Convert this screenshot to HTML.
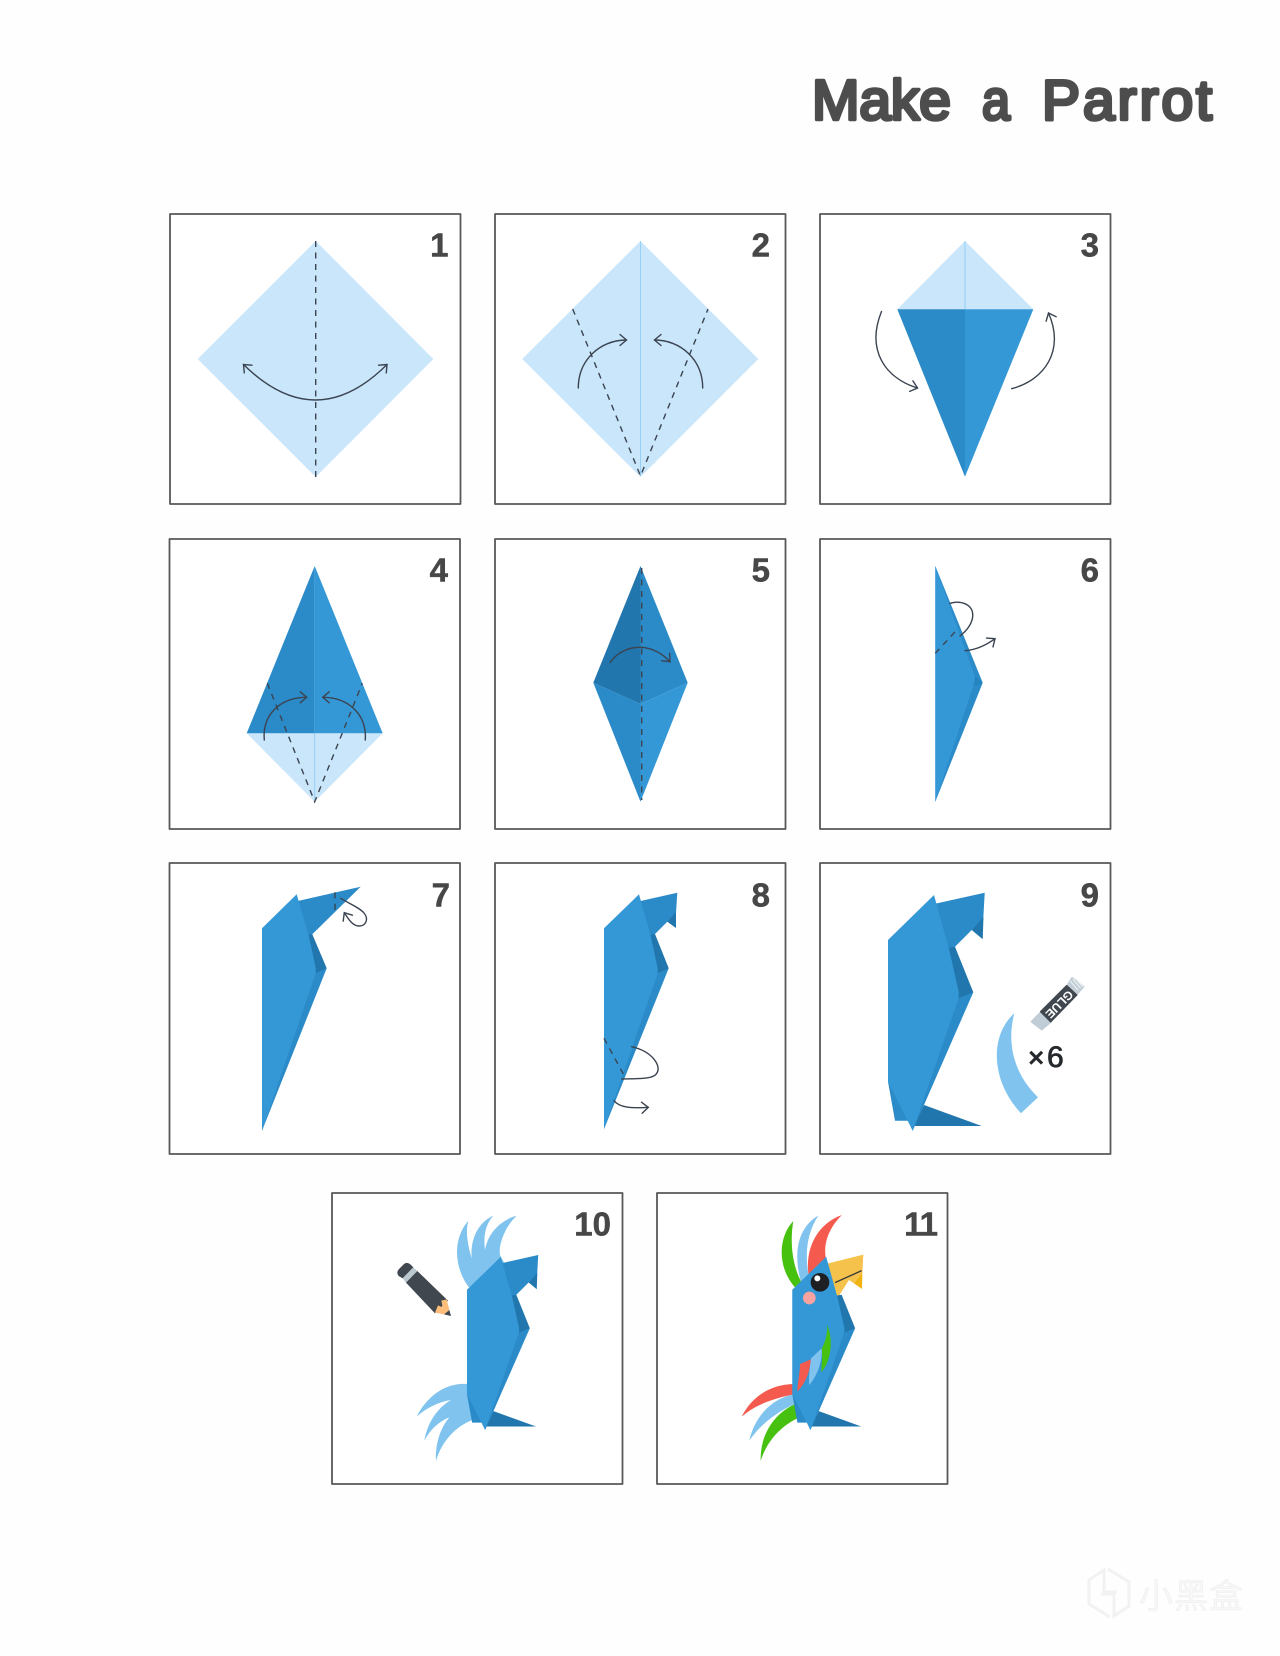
<!DOCTYPE html>
<html>
<head>
<meta charset="utf-8">
<title>Make a Parrot</title>
<style>
html,body{margin:0;padding:0;background:#fefefe;}
svg{display:block;}
.p{fill:#fff;stroke:#585858;stroke-width:1.8;stroke-linejoin:round;}
.n{font-family:"Liberation Sans",sans-serif;font-weight:700;font-size:33px;fill:#474747;stroke:#474747;stroke-width:.5;stroke-linejoin:round;text-anchor:end;}
.t{font-family:"Liberation Sans",sans-serif;font-weight:400;font-size:57px;fill:#4d4d4d;stroke:#4d4d4d;stroke-width:3.6;stroke-linejoin:round;stroke-linecap:round;}
.d{fill:none;stroke:#3b4450;stroke-width:1.4;stroke-dasharray:6 5.5;}
.a{fill:none;stroke:#3b4450;stroke-width:1.4;stroke-linecap:round;}
.e{fill:none;stroke:#3b4450;stroke-width:1.4;stroke-linecap:round;marker-end:url(#h);}
.s{fill:none;stroke:#3b4450;stroke-width:1.4;stroke-linecap:round;marker-start:url(#hs);marker-end:url(#h);}
.c{stroke:#96d0f5;stroke-width:1;fill:none;}
</style>
</head>
<body>
<svg xmlns="http://www.w3.org/2000/svg" width="1280" height="1656" viewBox="0 0 1280 1656">
<defs>
<marker id="h" markerUnits="userSpaceOnUse" markerWidth="16" markerHeight="16" refX="8" refY="8" orient="auto" overflow="visible">
<path d="M1.5 2.5L8 8L1.5 13.5" fill="none" stroke="#3b4450" stroke-width="1.4" stroke-linecap="round"/>
</marker>
<marker id="hs" markerUnits="userSpaceOnUse" markerWidth="16" markerHeight="16" refX="8" refY="8" orient="auto-start-reverse" overflow="visible">
<path d="M1.5 2.5L8 8L1.5 13.5" fill="none" stroke="#3b4450" stroke-width="1.4" stroke-linecap="round"/>
</marker>
<g id="b">
<polygon points="924,1105 981.7,1126 914,1126" fill="#2076ad"/>
<polygon points="940,990 973.3,992.3 912.7,1130.7 900,1100" fill="#2b8ac8"/>
<polygon points="935,950 955,946.7 973.3,992.3 958.7,998.3 940,1000" fill="#2076ad"/>
<polygon points="888,1081.7 895,1120.7 908.3,1120.7 912.7,1130.7 900,1085" fill="#2b8ac8"/>
<polygon points="888,940 934,895 949.3,950 958.7,991.7 958.7,998 912.7,1130.7 888,1081.7" fill="#3598d6"/>
</g>
<g id="k">
<polygon points="925,905 937.3,903.3 984.7,892.7 983.3,918.3 971.7,930 955,946.7 945,955" fill="#2b8ac8"/>
<polygon points="983.5,917 982.7,939.3 971.7,930" fill="#2076ad"/>
</g>
</defs>

<rect width="1280" height="1656" fill="#fefefe"/>

<!-- title -->
<text class="t" x="812" y="119.500" textLength="139" lengthAdjust="spacing">Make</text>
<text class="t" x="982" y="119.500" textLength="28" lengthAdjust="spacingAndGlyphs">a</text>
<text class="t" x="1042" y="119.500" textLength="170" lengthAdjust="spacing">Parrot</text>

<!-- panels -->
<rect class="p" x="170" y="214" width="290.5" height="290"/>
<rect class="p" x="495" y="214" width="290.5" height="290"/>
<rect class="p" x="820" y="214" width="290.5" height="290"/>
<rect class="p" x="169.5" y="539" width="290.5" height="290"/>
<rect class="p" x="495" y="539" width="290.5" height="290"/>
<rect class="p" x="820" y="539" width="290.5" height="290"/>
<rect class="p" x="169.5" y="863" width="290.5" height="291"/>
<rect class="p" x="495" y="863" width="290.5" height="291"/>
<rect class="p" x="820" y="863" width="290.5" height="291"/>
<rect class="p" x="332" y="1193" width="290.5" height="291"/>
<rect class="p" x="657" y="1193" width="290.5" height="291"/>

<!-- numbers -->
<text class="n" x="448.500" y="256.500">1</text>
<text class="n" x="770" y="256.500">2</text>
<text class="n" x="1099" y="256.500">3</text>
<text class="n" x="448" y="581.500">4</text>
<text class="n" x="770" y="581.500">5</text>
<text class="n" x="1099" y="581.500">6</text>
<text class="n" x="450" y="906.500">7</text>
<text class="n" x="770" y="906.500">8</text>
<text class="n" x="1099" y="906.500">9</text>
<text class="n" x="611" y="1235.500">10</text>
<text class="n" x="937" y="1235.500" letter-spacing="-1">11</text>

<!-- 1 -->
<polygon points="315.7,241 433.3,359 315.7,477 197.7,359" fill="#c9e6fb"/>
<path class="d" d="M315.7 241V477"/>
<path class="s" d="M243.5 364.5Q315.7 435.5 387 364.5"/>

<!-- 2 -->
<polygon points="640.5,241 758.3,359 640.5,477 522.3,359" fill="#c9e6fb"/>
<path class="c" d="M640.5 241V476"/>
<path class="d" d="M572.7 309L640.5 476L708 309"/>
<path class="e" d="M578.3 388C578.3 360 600 340 626.5 340"/>
<path class="e" d="M702.7 388C702.7 360 681 340 654.5 340"/>

<!-- 3 -->
<polygon points="965,241 1033.3,309.3 897.3,309.3" fill="#c9e6fb"/>
<path class="c" d="M965 241V309"/>
<polygon points="897.3,309.3 965,309.3 965,476.7" fill="#2b8ac8"/>
<polygon points="1033.3,309.3 965,309.3 965,476.7" fill="#3598d6"/>
<path class="e" d="M881.5 311.5C866 350 885 378 917.5 388"/>
<path class="e" d="M1011.7 388.7C1045 380 1065 350 1048.5 313"/>

<!-- 4 -->
<polygon points="246.7,733.3 382.7,733.3 314.7,801.7" fill="#c9e6fb"/>
<path class="c" d="M314.7 733V800"/>
<polygon points="314.7,566 246.7,733.3 314.7,733.3" fill="#2b8ac8"/>
<polygon points="314.7,566 382.7,733.3 314.7,733.3" fill="#3598d6"/>
<path class="d" d="M267.3 683.3L314.7 801.7L362.3 683.3"/>
<path class="e" d="M264.3 740C262 715 280 697.3 306.7 697.3"/>
<path class="e" d="M365.3 740C367 715 349 697.3 322.7 697.3"/>

<!-- 5 -->
<polygon points="640.5,566 593.3,682.7 640.5,704" fill="#2076ad"/>
<polygon points="640.5,566 687.7,682.7 640.5,704" fill="#2b8ac8"/>
<polygon points="593.3,682.7 640.5,704 640.5,801.7" fill="#2b8ac8"/>
<polygon points="687.7,682.7 640.5,704 640.5,801.7" fill="#3598d6"/>
<path class="d" d="M641.7 568V800"/>
<path class="e" d="M610 662.7C622 645 650 640 670 661.7"/>

<!-- 6 -->
<polygon points="935.3,566 982.7,682.7 935.3,801.7" fill="#2b8ac8"/>
<polygon points="970,672 982.7,682.7 973.3,686" fill="#2484bf"/>
<polygon points="935.3,566 975,676.7 973.3,686 935.3,801.7" fill="#3598d6"/>
<path class="d" d="M935.3 653.3L958.3 628.3" stroke-dasharray="4 3"/>
<path class="a" d="M950 603.5C958 600 975 603 972.5 618C971 626 965 632 960 636"/>
<path class="e" d="M965 650.7C975 650 985 646 995 638.7"/>

<!-- 7 -->
<polygon points="290,903 299,900.7 360.7,886.7 312.3,934.3 302,940" fill="#2b8ac8"/>
<polygon points="300,970 326.7,968.3 262,1130.7 270,1050" fill="#2b8ac8"/>
<polygon points="300,936 312.3,934.3 326.7,968.3 315.7,973.3 305,975" fill="#2076ad"/>
<polygon points="262,928.3 296.7,894.3 309,936.7 315.7,968 315.7,973.3 262,1130.7" fill="#3598d6"/>
<path class="d" d="M335 892.3V910.7" stroke-dasharray="4 3"/>
<path class="e" d="M340.7 898.3C350 904 360 908 364 913C369 919 366 926 359 926C353 926 349 920 344.3 912.7"/>

<!-- 8 -->
<polygon points="632,903 641.7,900.7 677.3,892.7 676,913.3 667.3,921.7 655,934 645,940" fill="#2b8ac8"/>
<polygon points="676,911.7 676,928 667.3,921.7" fill="#2076ad"/>
<polygon points="640,970 668.7,968.3 604,1129.3 612,1050" fill="#2b8ac8"/>
<polygon points="642,936 655,934 668.7,968.3 657.7,973.3 647,975" fill="#2076ad"/>
<polygon points="604,928.3 639,894.3 650.7,936 657.7,968.3 657.7,973.3 604,1129.3" fill="#3598d6"/>
<path class="d" d="M604 1038.3L623.3 1074"/>
<path class="a" d="M631.7 1046.7C653.3 1051.7 661.7 1066.7 656.7 1073.3C653.3 1080 633.3 1078.3 621.7 1079"/>
<path class="e" d="M614 1100.7C620 1108.3 633.3 1108.3 648.3 1107.3"/>

<!-- 9 -->
<use href="#k"/>
<use href="#b"/>
<path d="M1014.3 1013.3C990 1035 990 1080 1021 1113.3L1038 1097.3C1015 1075 1006 1045 1014.3 1013.3Z" fill="#7fc3ee"/>
<g>
<polygon points="1031,1021.7 1040.7,1011.7 1051.7,1021.7 1041.7,1030" fill="#c0cdd6" stroke="#c0cdd6" stroke-width="1" stroke-linejoin="round"/>
<polygon points="1066.7,985.7 1072,977.3 1084,986.7 1076.7,995" fill="#c4ced6" stroke="#c4ced6" stroke-width="1" stroke-linejoin="round"/>
<path d="M1070 981L1078 990M1073 979L1080.500 988M1076 979L1083 987" stroke="#eef2f4" stroke-width="1" fill="none"/>
<polygon points="1040.7,1011.7 1066.7,985.7 1076.7,995 1050.7,1021.7" fill="#41474f" stroke="#41474f" stroke-width="1.500" stroke-linejoin="round"/>
<text x="1058.7" y="1003.7" transform="rotate(135 1058.7 1003.7)" text-anchor="middle" dominant-baseline="middle" font-family="Liberation Sans,sans-serif" font-size="12" font-weight="700" fill="#fff">GLUE</text>
</g>
<text x="1028" y="1067" font-family="Liberation Sans,sans-serif" font-size="28" font-weight="700" fill="#25282c">×</text>
<text x="1047" y="1067" font-family="Liberation Sans,sans-serif" font-size="30" fill="#25282c" stroke="#25282c" stroke-width=".8">6</text>

<!-- 10 -->
<g transform="translate(320 1170) scale(.33333)">
<path d="M445 153C405 195 395 280 445 350L470 370L560 290L543 262C530 240 550 175 590 137C545 150 505 185 495 240C490 200 495 165 520 137C480 155 450 200 455 265C445 230 435 190 445 153Z" fill="#7fc3ee"/>
<path d="M441 642C375 638 320 680 290 740C320 712 360 695 393 690C350 715 322 760 313 812C330 780 355 755 388 742C360 775 345 825 348 873C365 815 405 770 457 750L475 720L465 660Z" fill="#7fc3ee"/>
<path d="M236 318Q228 308 236 298L252 282Q262 274 272 284L280 292L248 325Z" fill="#41474f"/>
<polygon points="248,325 280,292 292,303 258,338" fill="#bcc8cf"/>
<polygon points="258,338 292,303 384,392 345,430" fill="#41474f"/>
<polygon points="345,428 354,406 368,412 364,392 380,388 388,420 372,433" fill="#fdbe7c"/>
<polygon points="372,433 388,420 393,438" fill="#41474f"/>
</g>
<g transform="translate(-187.5 598.9) scale(.737 .735)">
<use href="#k"/>
<use href="#b"/>
</g>

<!-- 11 -->
<g transform="translate(640 1170) scale(.33333)">
<path d="M460 153C415 200 410 290 465 352L490 360L482 332C455 280 450 210 460 153Z" fill="#47c10f"/>
<path d="M535 137C485 165 455 230 482 332L490 355L520 340L505 312C495 250 500 190 535 137Z" fill="#7fc3ee"/>
<path d="M606 135C545 155 495 220 505 310L515 335L565 300L557 262C550 215 570 170 606 135Z" fill="#f55a4e"/>
<path d="M457 642C390 645 335 680 305 740C345 705 400 685 458 674L475 670L472 650Z" fill="#f55a4e"/>
<path d="M458 674C400 685 345 735 328 812C360 765 410 725 465 702L480 695L475 670Z" fill="#7fc3ee"/>
<path d="M465 702C405 730 360 790 362 873C380 815 420 770 472 745L485 735L480 695Z" fill="#47c10f"/>
<polygon points="667,305 666,357 642,340" fill="#f0b310"/>
<polygon points="550,284 670,254 667,310 642,340 627,330 592,385 580,385" fill="#f5c24b"/>
<path d="M585 338L665 302" stroke="#3b3b3b" stroke-width="4" fill="none"/>
</g>
<g transform="translate(137.8 598.9) scale(.737 .735)">
<use href="#b"/>
</g>
<g transform="translate(640 1170) scale(.33333)">
<circle cx="540" cy="337" r="28" fill="#1d1f22"/>
<circle cx="532" cy="325" r="9" fill="#fff"/>
<circle cx="508" cy="384" r="19" fill="#f9a3a0"/>
<path d="M562 465C580 510 575 570 544 607C545 580 548 560 545 535C555 520 562 495 562 465Z" fill="#47c10f"/>
<path d="M545 535C548 575 530 620 508 645C505 620 510 590 513 565Z" fill="#7fc3ee"/>
<path d="M512 568C510 610 495 640 472 665C472 640 480 610 480 582Z" fill="#f55a4e"/>
</g>

<!-- watermark -->
<g fill="none" stroke="#f2f2f2" stroke-width="3">
<path d="M1108 1569L1129 1582V1606L1114 1616V1594H1101"/>
<path d="M1110 1617L1089 1604V1580L1104 1570V1592H1117"/>
</g>
<text x="1139" y="1608" font-family="Noto Sans CJK SC,sans-serif" font-size="34" letter-spacing="1" fill="#f7f7f7" stroke="#eeeeee" stroke-width=".6">小黑盒</text>
</svg>
</body>
</html>
